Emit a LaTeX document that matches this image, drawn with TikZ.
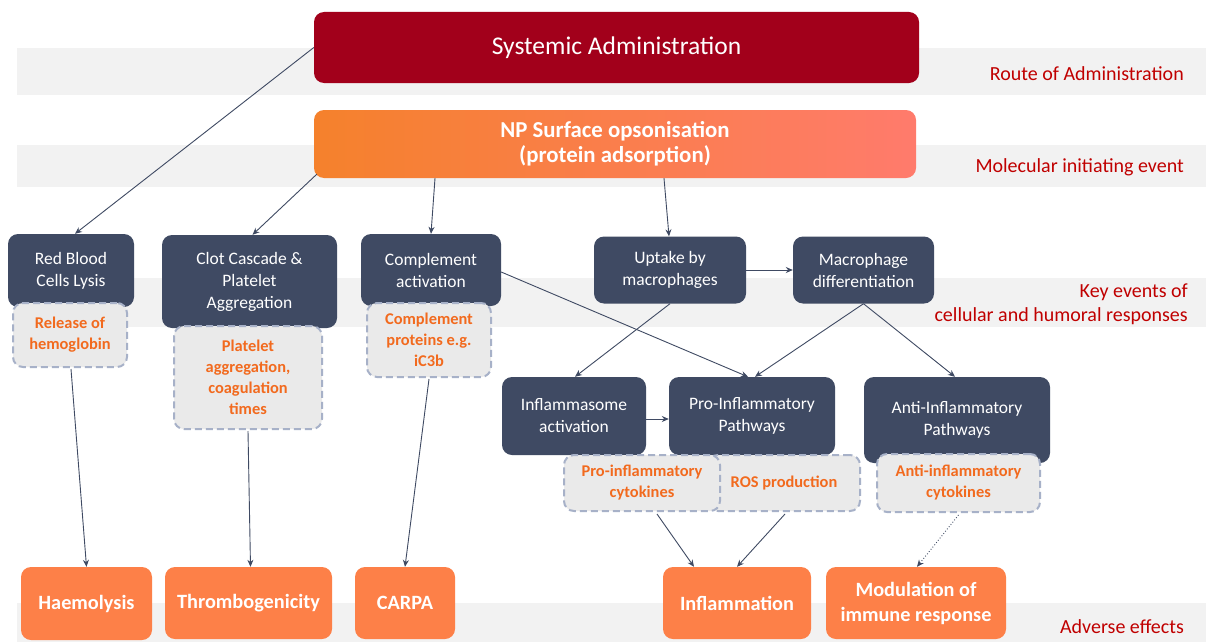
\documentclass[tikz,border=0pt]{standalone}
\usepackage{fontspec}
\setmainfont{Carlito}
\usetikzlibrary{arrows.meta,calc}
\definecolor{bandc}{HTML}{F2F2F2}
\definecolor{darkc}{HTML}{3F4A63}
\definecolor{sysred}{HTML}{A2001B}
\definecolor{labred}{HTML}{C00000}
\definecolor{orangeb}{HTML}{FD8048}
\definecolor{otext}{HTML}{F26A1E}
\definecolor{dfill}{HTML}{EAEAEA}
\definecolor{dashc}{HTML}{A7B1C8}
\definecolor{npa}{HTML}{F5812C}
\definecolor{npb}{HTML}{FF7B6C}
\begin{document}
\begin{tikzpicture}[x=1pt,y=-1pt,
  dbox/.style={fill=darkc, rounded corners=10pt, text=white, align=center, inner sep=0pt,
    font=\fontsize{17.5}{22}\selectfont},
  obox/.style={fill=orangeb, rounded corners=10pt, text=white, align=center, inner sep=0pt,
    font=\bfseries\fontsize{20.3}{25}\selectfont},
  dashbox/.style={draw=dashc, line width=2pt, dash pattern=on 7pt off 4pt, fill=dfill,
    rounded corners=10pt, text=otext, align=center, inner sep=0pt,
    font=\bfseries\fontsize{16.4}{21}\selectfont},
  arr/.style={draw=darkc, line width=0.9pt, -{Stealth[length=7pt,width=6pt]}},
  lab/.style={text=labred, font=\fontsize{20}{24}\selectfont, anchor=east, align=right, inner sep=0pt},
  band/.style={fill=bandc, draw=none}
]
\useasboundingbox (0,0) rectangle (1206,642);
\fill[white] (0,0) rectangle (1206,642);
% bands
\path[band] (17,48) rectangle (1206,95);
\path[band] (17,145) rectangle (1206,187);
\path[band] (17,278) rectangle (1206,327);
\path[band] (17,603) rectangle (1206,642);

% top boxes
\node[fill=sysred, rounded corners=10pt, text=white, inner sep=0pt, minimum width=605pt, minimum height=71pt,
  font=\fontsize{25.5}{28}\selectfont] (sys) at (616.5,47.5) {Systemic Administration};
\node[left color=npa, right color=npb, rounded corners=10pt, text=white, inner sep=0pt, align=center,
  minimum width=602pt, minimum height=68pt, font=\bfseries\fontsize{22.8}{25}\selectfont] (np) at (615,144)
  {NP Surface opsonisation\\(protein adsorption)};

% dark boxes
\node[dbox, minimum width=126pt, minimum height=73pt] (rbc) at (71,270.5) {Red Blood\\Cells Lysis};
\node[dbox, minimum width=175pt, minimum height=93pt] (clot) at (249.5,281.5) {Clot Cascade \&\\Platelet\\Aggregation};
\node[dbox, minimum width=140pt, minimum height=72pt] (comp) at (431,270) {Complement\\activation};
\node[dbox, minimum width=152pt, minimum height=67pt] (upt) at (670,270) {Uptake by\\macrophages};
\node[dbox, minimum width=141pt, minimum height=67pt] (mdiff) at (863.5,270) {Macrophage\\differentiation};
\node[dbox, minimum width=144pt, minimum height=78pt] (infl) at (574,416) {Inflammasome\\activation};
\node[dbox, minimum width=166pt, minimum height=78pt] (proinf) at (752,416) {Pro-Inflammatory\\Pathways};
\node[dbox, minimum width=186pt, minimum height=86pt] (antiinf) at (957,420) {Anti-Inflammatory\\Pathways};

% dashed boxes
\node[dashbox, minimum width=114pt, minimum height=64pt] (hem) at (70,335) {Release of\\hemoglobin};
\node[dashbox, minimum width=148pt, minimum height=103pt] (plt) at (248,377.5) {Platelet\\aggregation,\\coagulation\\times};
\node[dashbox, minimum width=124pt, minimum height=74pt] (cprot) at (429,340) {Complement\\proteins e.g.\\iC3b};
\node[dashbox, minimum width=152pt, minimum height=56pt] (ros) at (784,483) {ROS production};
\node[dashbox, minimum width=156pt, minimum height=56pt] (pcyt) at (642,483) {Pro-inflammatory\\cytokines};
\node[dashbox, minimum width=163pt, minimum height=58pt] (acyt) at (958.5,483) {Anti-inflammatory\\cytokines};

% bottom boxes
\node[obox, minimum width=131pt, minimum height=73pt] (haem) at (86.5,603.5) {Haemolysis};
\node[obox, minimum width=167pt, minimum height=72pt] (thr) at (248.5,603) {Thrombogenicity};
\node[obox, minimum width=100pt, minimum height=72pt] (carpa) at (405,603) {CARPA};
\node[obox, minimum width=148pt, minimum height=72pt] (inflam) at (737,603) {Inflammation};
\node[obox, minimum width=180pt, minimum height=72pt] (mod) at (916,603) {Modulation of\\immune response};

% labels
\node[lab] (l1) at (1184,74) {Route of Administration};
\node[lab] (l2) at (1184,167) {Molecular initiating event};
\node[lab] (l3) at (1188,304) {Key events of\\cellular and humoral responses};
\node[lab] (l4) at (1184,627) {Adverse effects};

% arrows
\draw[arr] (sys.west) -- ($(rbc.north)+(4,0)$);
\draw[arr] ($(np.south west)+(3,-4)$) -- ($(clot.north)+(3,0)$);
\draw[arr] ($(comp.north |- np.south)+(4,0)$) -- (comp.north);
\draw[arr] ($(upt.north |- np.south)+(-6,0)$) -- ($(upt.north)+(-1,0)$);
\draw[arr] (upt.east) -- (mdiff.west);
\draw[arr] ($(comp.east)+(0,2)$) -- ($(proinf.north)+(-4,0)$);
\draw[arr] (upt.south) -- ($(infl.north)+(1,0)$);
\draw[arr] (mdiff.south) -- ($(proinf.north)+(3,0)$);
\draw[arr] (mdiff.south) -- ($(antiinf.north)+(-2,0)$);
\draw[arr] ($(infl.east)+(0,3)$) -- ($(proinf.west)+(0,3)$);
\draw[arr] ($(hem.south)+(1,1)$) -- (haem.north);
\draw[arr] ($(plt.south)+(0,1)$) -- ($(thr.north)+(2,0)$);
\draw[arr] ($(cprot.south)+(0,1)$) -- (carpa.north);
\draw[arr] ($(pcyt.south)+(15,2)$) -- ($(inflam.north)+(-43,0)$);
\draw[arr] ($(ros.south)+(1,2)$) -- (inflam.north);
\draw[arr, dotted] ($(acyt.south)+(0,2)$) -- ($(mod.north)+(1,0)$);
\end{tikzpicture}
\end{document}
